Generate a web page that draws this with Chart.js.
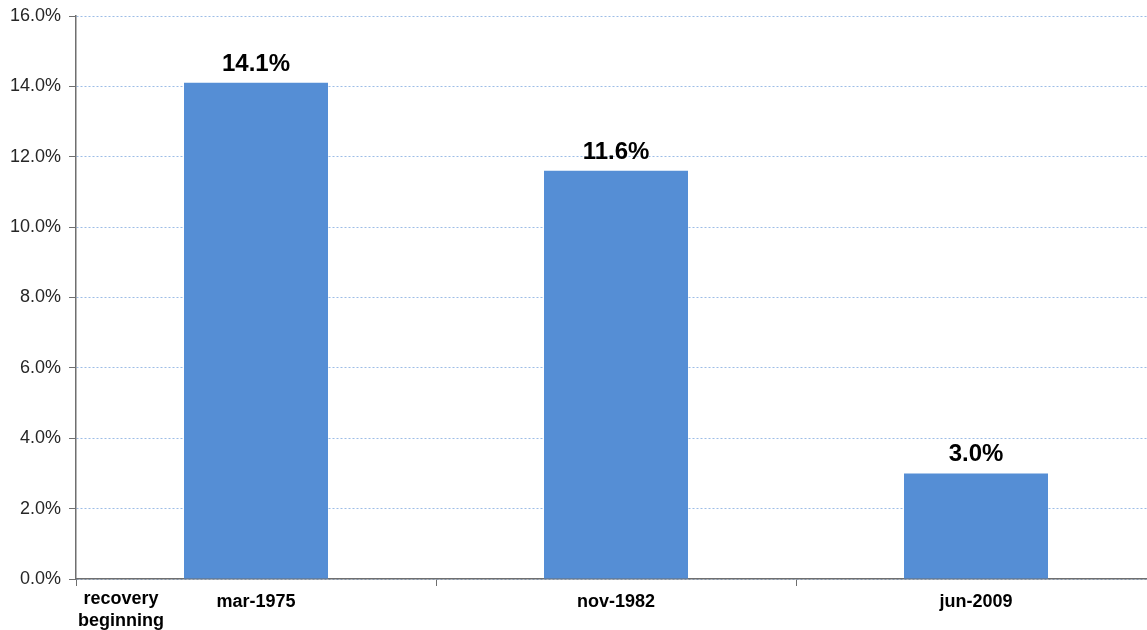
<!DOCTYPE html>
<html>
<head>
<meta charset="utf-8">
<script src="https://cdn.jsdelivr.net/npm/chart.js@4"></script>
<style>
  html, body { margin:0; padding:0; background:#fff; overflow:hidden; }
  #wrap { width:1156px; height:630px; position:relative; }
</style>
</head>
<body>
<div id="wrap"><canvas id="chart1"></canvas></div>
<script>
/* ── 데이터 ── */
const categories = ['mar-1975', 'nov-1982', 'jun-2009'];
const values = [14.1, 11.6, 3.0];
const yTicks = [0, 2, 4, 6, 8, 10, 12, 14, 16];
const cornerLabel = ['recovery', 'beginning'];

/* ── 스타일 ── */
const BAR = '#558ed5';
const GRID = '#9dbde6';
const AXIS = '#6f6f6f';
const FONT = "'Liberation Sans', Arial, sans-serif";

/* ── 막대 위 값 라벨 ── */
const valueLabels = {
  id: 'valueLabels',
  afterDatasetsDraw(chart){
    const { ctx } = chart;
    const meta = chart.getDatasetMeta(0);
    ctx.save();
    ctx.font = `bold 24px ${FONT}`;
    ctx.fillStyle = '#000';
    ctx.textAlign = 'center';
    ctx.textBaseline = 'alphabetic';
    meta.data.forEach((bar, i) => {
      ctx.fillText(values[i].toFixed(1) + '%', bar.x, bar.y - 12);
    });
    ctx.restore();
  }
};

/* ── 왼쪽 아래 "recovery beginning" ── */
const corner = {
  id: 'corner',
  afterDraw(chart){
    const { ctx, chartArea } = chart;
    ctx.save();
    ctx.font = `bold 18px ${FONT}`;
    ctx.fillStyle = '#000';
    ctx.textAlign = 'center';
    ctx.textBaseline = 'middle';
    const cx = chartArea.left + 45;
    cornerLabel.forEach((t, i) => ctx.fillText(t, cx, chartArea.bottom + 20 + i * 22));
    ctx.restore();
  }
};

new Chart(document.getElementById('chart1'), {
  type: 'bar',
  data: {
    labels: categories,
    datasets: [{
      data: values,
      backgroundColor: BAR,
      borderWidth: 0,
      barPercentage: 0.8,
      categoryPercentage: 0.5
    }]
  },
  options: {
    responsive: true,
    maintainAspectRatio: false,
    animation: false,
    layout: { padding: { top: 16, right: 0, left: 0, bottom: 0 } },
    plugins: { legend: { display: false }, tooltip: { enabled: false } },
    scales: {
      x: {
        offset: true,
        grid: { offset: true, drawOnChartArea: false, color: AXIS, tickLength: 7, tickWidth: 1 },
        border: { color: AXIS, width: 1.5 },
        ticks: { color: '#000', font: { family: FONT, size: 18, weight: 'bold' }, padding: 5 },
        afterFit(s){ s.height = 51; }
      },
      y: {
        min: 0, max: 16,
        afterBuildTicks(s){ s.ticks = yTicks.map(v => ({ value: v })); },
        grid: {
          color: GRID, lineWidth: 1, tickLength: 7,
          tickColor: AXIS, tickWidth: 1, drawTicks: true,
          tickBorderDash: []
        },
        border: { color: AXIS, width: 1.5, dash: [2, 2] },
        ticks: {
          color: '#262626', font: { family: FONT, size: 18 }, padding: 8,
          callback: v => v.toFixed(1) + '%'
        },
        afterFit(s){ s.width = 76; s.paddingTop = 0; s.paddingBottom = 0; }
      }
    }
  },
  plugins: [valueLabels, corner]
});
</script>
</body>
</html>
